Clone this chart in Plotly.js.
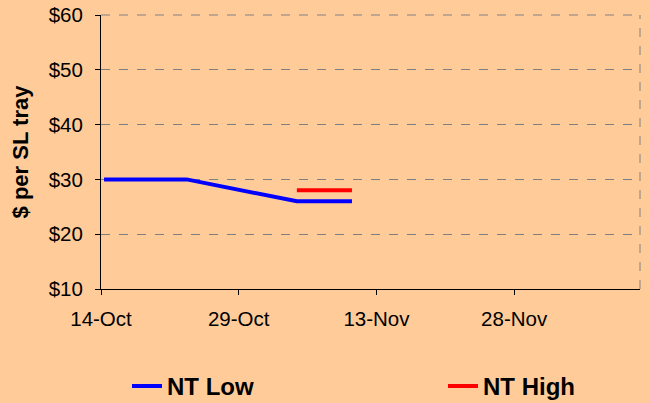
<!DOCTYPE html>
<html>
<head>
<meta charset="utf-8">
<script src="https://cdn.plot.ly/plotly-3.0.1.min.js"></script>
<style>
  html, body { margin: 0; padding: 0; background: #FFCC99; }
  #chart { width: 650px; height: 403px; }
</style>
</head>
<body>
<div id="chart"></div>
<script>
// NT price series, $ per SL tray
const lowDates = ["2008-10-14 08:00", "2008-10-23 08:00", "2008-11-04 08:00", "2008-11-10 08:00"];
const lowPrices = [30, 30, 26, 26];

const highDates = ["2008-11-04 08:00", "2008-11-10 08:00"];
const highPrices = [28, 28];

const tickStart = "2008-10-14";
const xEnd = "2008-12-11 17:00";

const font = "Liberation Sans, Arial, sans-serif";

const data = [
    {
        x: lowDates,
        y: lowPrices,
        name: "NT Low",
        type: "scatter",
        mode: "lines",
        line: { color: "#0000FF", width: 4 },
        legend: "legend"
    },
    {
        x: highDates,
        y: highPrices,
        name: "NT High",
        type: "scatter",
        mode: "lines",
        line: { color: "#FF0000", width: 4 },
        legend: "legend2"
    }
];

const legendFont = { family: font, size: 24, color: "#000000", weight: "bold" };

const layout = {
    width: 650,
    height: 403,
    paper_bgcolor: "#FFCC99",
    plot_bgcolor: "#FFCC99",
    margin: { l: 101, r: 10, t: 15, b: 114 },
    font: { family: font, size: 20, color: "#000000" },
    showlegend: true,
    legend: {
        orientation: "h",
        xref: "container",
        yref: "container",
        x: 127 / 650,
        xanchor: "left",
        y: 0.097,
        yanchor: "top",
        bgcolor: "rgba(0,0,0,0)",
        font: legendFont
    },
    legend2: {
        orientation: "h",
        xref: "container",
        yref: "container",
        x: 443 / 650,
        xanchor: "left",
        y: 0.097,
        yanchor: "top",
        bgcolor: "rgba(0,0,0,0)",
        font: legendFont
    },
    xaxis: {
        type: "date",
        range: [tickStart, xEnd],
        tick0: tickStart,
        dtick: 15 * 86400000,
        tickformat: "%-d-%b",
        showgrid: false,
        zeroline: false,
        showline: true,
        linecolor: "#000000",
        linewidth: 1,
        ticks: "outside",
        ticklen: 5,
        tickcolor: "#000000",
        ticklabelstandoff: 6,
        tickfont: { family: font, size: 20.5 }
    },
    yaxis: {
        range: [10, 60],
        dtick: 10,
        tickprefix: "$",
        showgrid: true,
        gridcolor: "#808080",
        griddash: "dash",
        gridwidth: 1,
        zeroline: false,
        showline: true,
        linecolor: "#000000",
        linewidth: 1,
        ticks: "outside",
        ticklen: 5,
        tickcolor: "#000000",
        ticklabelstandoff: 8,
        tickfont: { family: font, size: 20.5 },
        title: {
            text: "$ per SL tray",
            standoff: 13,
            font: { family: font, size: 22, weight: "bold" }
        }
    },
    shapes: [
        {
            type: "line",
            xref: "paper",
            yref: "paper",
            x0: 1, x1: 1, y0: 0, y1: 1,
            line: { color: "#808080", width: 1, dash: "dash" }
        },
        {
            type: "line",
            xref: "paper",
            yref: "paper",
            x0: 0, x1: 1, y0: 1, y1: 1,
            line: { color: "#808080", width: 1, dash: "dash" }
        }
    ]
};

Plotly.newPlot("chart", data, layout, { displayModeBar: false });
</script>
</body>
</html>
